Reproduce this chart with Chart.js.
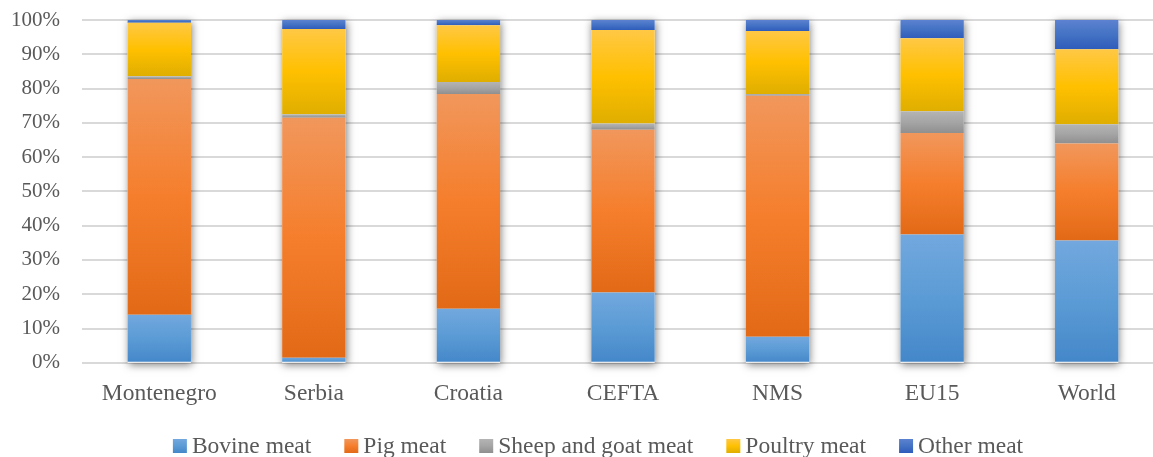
<!DOCTYPE html>
<html>
<head>
<meta charset="utf-8">
<script src="https://cdn.jsdelivr.net/npm/chart.js@4/dist/chart.umd.min.js"></script>
<style>
  html, body { margin: 0; padding: 0; background: #fff; overflow: hidden; }
  #wrap { width: 1166px; height: 457px; }
</style>
</head>
<body>
<div id="wrap"><canvas id="meatChart"></canvas></div>
<script>
const regions = ['Montenegro', 'Serbia', 'Croatia', 'CEFTA', 'NMS', 'EU15', 'World'];

// shares in %
const bovine  = [14.0,  1.5, 15.8, 20.5,  7.6, 37.4, 35.7];
const pig     = [68.8, 70.0, 62.6, 47.5, 70.3, 29.6, 28.3];
const sheep   = [ 0.8,  1.0,  3.5,  1.8,  0.5,  6.4,  5.6];
const poultry = [15.6, 24.9, 16.6, 27.3, 18.4, 21.3, 21.9];
const other   = [ 0.8,  2.6,  1.5,  2.9,  3.2,  5.3,  8.5];

const allSeries = [bovine, pig, sheep, poultry, other];
const names = ['Bovine meat', 'Pig meat', 'Sheep and goat meat', 'Poultry meat', 'Other meat'];

// top, middle, bottom of each segment's gradient
const fills = [
  ['#72a8de', '#5b9bd5', '#4487c9'],
  ['#f1975c', '#f57e2c', '#e26a17'],
  ['#b4b4b4', '#a5a5a5', '#8f8f8f'],
  ['#ffc845', '#ffc000', '#dfae00'],
  ['#5c82d0', '#4472c4', '#2e5cbb'],
];

const textColor = '#595959';
const serif = 'Liberation Serif';

function vGradient(c, stops, yTop, yBot) {
  const g = c.createLinearGradient(0, yTop, 0, yBot);
  g.addColorStop(0, stops[0]);
  g.addColorStop(0.5, stops[1]);
  g.addColorStop(1, stops[2]);
  return g;
}

function segmentFill(dsIndex) {
  return (ctx) => {
    const stops = fills[dsIndex];
    const chart = ctx.chart;
    if (ctx.dataIndex === undefined || !chart.chartArea || !chart.scales.y) return stops[1];
    const i = ctx.dataIndex;
    let start = 0;
    for (let k = 0; k < dsIndex; k++) start += allSeries[k][i];
    const end = start + allSeries[dsIndex][i];
    const y = chart.scales.y;
    const yTop = y.getPixelForValue(end);
    const yBot = y.getPixelForValue(start);
    if (!(yBot - yTop > 0.5)) return stops[1];
    return vGradient(chart.ctx, stops, yTop, yBot);
  };
}

// soft shadow behind each full stack
const stackShadow = {
  id: 'stackShadow',
  beforeDatasetsDraw(chart) {
    const meta = chart.getDatasetMeta(0);
    const y = chart.scales.y;
    const c = chart.ctx;
    c.save();
    c.shadowColor = 'rgba(0,0,0,0.5)';
    c.shadowBlur = 8;
    c.shadowOffsetX = 1;
    c.shadowOffsetY = 2;
    c.fillStyle = '#ffffff';
    meta.data.forEach((bar) => {
      const top = y.getPixelForValue(100);
      const bot = y.getPixelForValue(0);
      c.fillRect(bar.x - bar.width / 2, top, bar.width, bot - top);
    });
    c.restore();
  }
};

// legend drawn in the space left by layout.padding.bottom
const bottomLegend = {
  id: 'bottomLegend',
  afterDraw(chart) {
    const c = chart.ctx;
    const box = 14, gap = 5, spacing = 33;
    c.save();
    c.font = '23.5px "' + serif + '"';
    c.textBaseline = 'middle';
    c.textAlign = 'left';
    const widths = chart.data.datasets.map((ds) => c.measureText(ds.label).width);
    const total = widths.reduce((s, w) => s + box + gap + w, 0) + spacing * (widths.length - 1);
    let x = chart.width / 2 + 15 - total / 2;
    const yMid = chart.height - 11;
    chart.data.datasets.forEach((ds, k) => {
      const top = yMid - box / 2;
      c.fillStyle = vGradient(c, fills[k], top, top + box);
      c.fillRect(x, top, box, box);
      c.fillStyle = textColor;
      c.fillText(ds.label, x + box + gap, yMid + 1);
      x += box + gap + widths[k] + spacing;
    });
    c.restore();
  }
};

new Chart(document.getElementById('meatChart'), {
  type: 'bar',
  data: {
    labels: regions,
    datasets: allSeries.map((values, k) => ({
      label: names[k],
      data: values,
      backgroundColor: segmentFill(k),
      borderWidth: 0,
      barPercentage: 0.41,
      categoryPercentage: 1,
    })),
  },
  options: {
    responsive: true,
    maintainAspectRatio: false,
    animation: false,
    layout: { padding: { top: 20, right: 2, left: 11, bottom: 49 } },
    scales: {
      x: {
        stacked: true,
        grid: { display: false, drawTicks: false },
        border: { display: false },
        afterFit: (s) => { s.height -= s.options.ticks.padding; },
        ticks: { color: textColor, font: { family: serif, size: 23.5 }, padding: 17 },
      },
      y: {
        stacked: true,
        min: 0,
        max: 100,
        afterFit: (s) => {
          s.paddingTop = 0;
          s.paddingBottom = 0;
          s.width -= s.options.ticks.padding;
        },
        ticks: {
          stepSize: 10,
          color: textColor,
          padding: 22,
          font: { family: serif, size: 21 },
          callback: (v) => v + '%',
        },
        grid: { color: '#d9d9d9', lineWidth: 2, drawTicks: false },
        border: { display: false },
      },
    },
    plugins: {
      legend: { display: false },
      tooltip: { enabled: false },
    },
  },
  plugins: [stackShadow, bottomLegend],
});
</script>
</body>
</html>
